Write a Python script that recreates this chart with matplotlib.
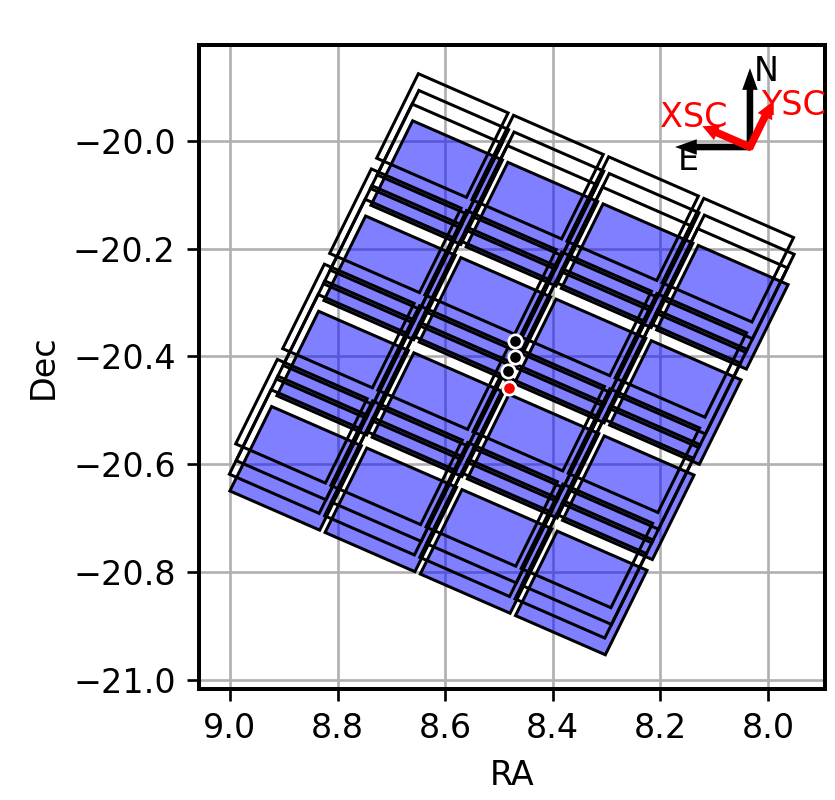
import numpy as np
import matplotlib.pyplot as plt
from matplotlib.patches import Polygon

# pointing centres of the four dithers (deg); first one is the reference pointing
dither_ra = [8.4814, 8.4824, 8.4699, 8.4709]
dither_dec = [-20.458, -20.427, -20.4018, -20.3708]

# focal plane layout: 4 x 4 detectors
pa = 24.9          # position angle of the array (deg)
chip = 0.1725      # detector size (deg)
gap_x = 0.0103     # gap between detector columns (deg)
gap_y = 0.022      # gap between detector rows (deg)
n_chip = 4

t = np.radians(pa)
u = np.array([np.cos(t), -np.sin(t)])    # -XSC on the tangent plane (x to the west)
v = np.array([-np.sin(t), -np.cos(t)])   # -YSC


def detector_corners(ra0, dec0):
    cosd = np.cos(np.radians(dec0))
    polys = []
    for i in range(n_chip):
        for j in range(n_chip):
            cu = (i - 1.5) * (chip + gap_x)
            cv = (j - 1.5) * (chip + gap_y)
            pts = []
            for a, b in [(-1, -1), (1, -1), (1, 1), (-1, 1)]:
                p = (cu + a * chip / 2) * u + (cv + b * chip / 2) * v
                pts.append((ra0 - p[0] / cosd, dec0 + p[1]))
            polys.append(pts)
    return polys


plt.rcParams['axes.linewidth'] = 1.2
fig = plt.figure(figsize=(835 / 240, 800 / 240), dpi=240)
ax = fig.add_axes([199 / 835, 1 - 689 / 800, 626 / 835, 644 / 800])
ax.set_axisbelow(True)
ax.grid(True)

for k in range(len(dither_ra)):
    for pts in detector_corners(dither_ra[k], dither_dec[k]):
        if k == 0:
            ax.add_patch(Polygon(pts, closed=True, facecolor=(0, 0, 1, 0.5), edgecolor='k', lw=0.9))
        else:
            ax.add_patch(Polygon(pts, closed=True, facecolor='none', edgecolor='k', lw=0.9))

ax.plot(dither_ra[1:], dither_dec[1:], 'o', color='k', mec='w', ms=4, mew=0.8)
ax.plot(dither_ra[:1], dither_dec[:1], 'o', color='r', mec='w', ms=4, mew=0.8)

# compass: N/E and spacecraft axes
x0, y0 = 8.0335, -20.012
cosd0 = np.cos(np.radians(y0))
ax.arrow(x0, y0, 0, 0.137, width=0.006, head_width=0.02, head_length=0.028,
         color='k', length_includes_head=True)
ax.arrow(x0, y0, 0.13, 0, width=0.006, head_width=0.02, head_length=0.028,
         color='k', length_includes_head=True)
ax.arrow(x0, y0, 0.085 * np.cos(t) / cosd0, 0.085 * np.sin(t), width=0.008, head_width=0.02,
         head_length=0.02, color='r', length_includes_head=True)
ax.arrow(x0, y0, -0.085 * np.sin(t) / cosd0, 0.085 * np.cos(t), width=0.008, head_width=0.02,
         head_length=0.02, color='r', length_includes_head=True)
ax.text(8.0037, -19.873, 'N', ha='center', va='center', color='k', fontsize=10)
ax.text(8.149, -20.037, 'E', ha='center', va='center', color='k', fontsize=10)
ax.text(8.139, -19.957, 'XSC', ha='center', va='center', color='r', fontsize=10)
ax.text(7.9535, -19.935, 'YSC', ha='center', va='center', color='r', fontsize=10)

ax.set_xlim(9.0576, 7.894)
ax.set_ylim(-21.016, -19.823)
ax.set_xticks([9.0, 8.8, 8.6, 8.4, 8.2, 8.0])
ax.set_yticks([-20.0, -20.2, -20.4, -20.6, -20.8, -21.0])
ax.set_xlabel('RA')
ax.set_ylabel('Dec')

fig.savefig('out.png', dpi=240)
